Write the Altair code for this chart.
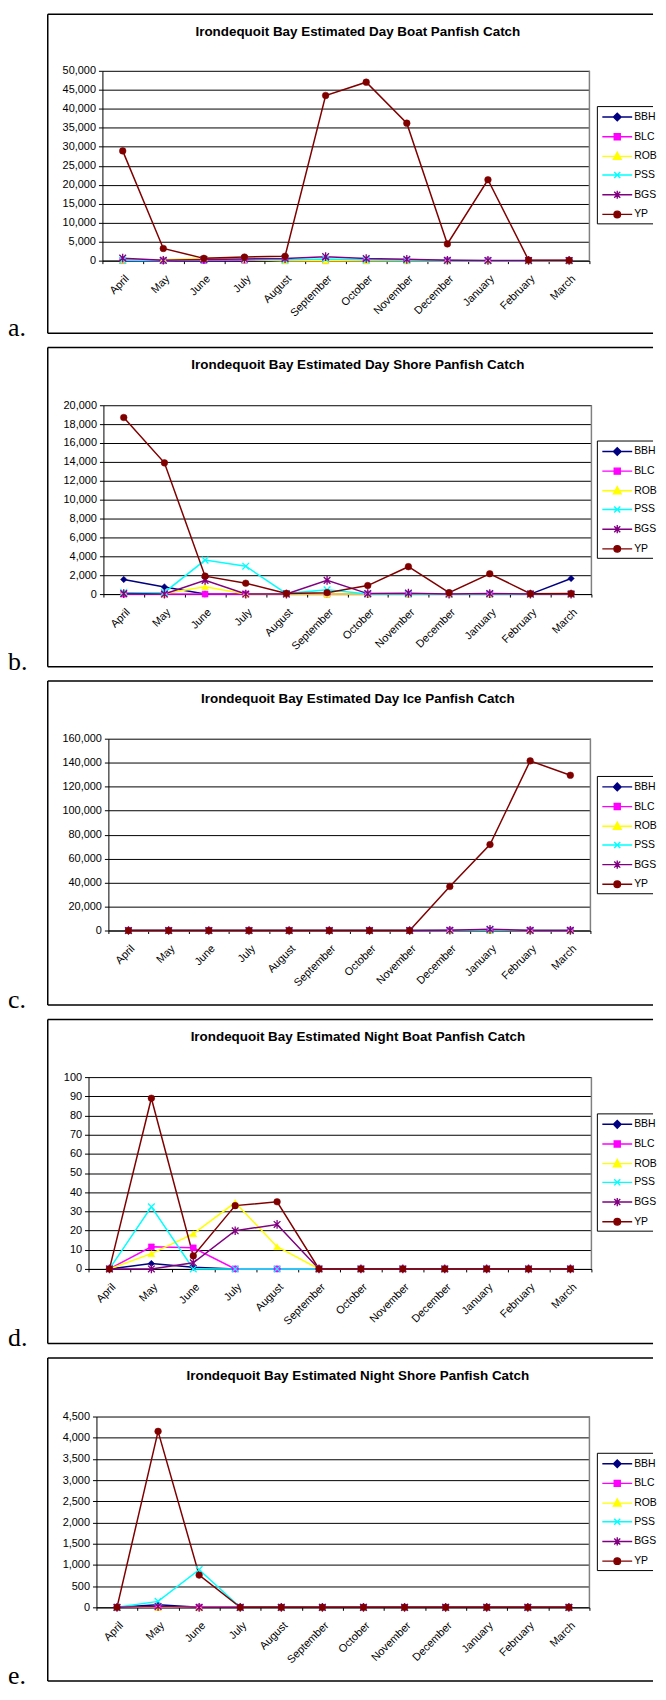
import altair as alt
import pandas as pd

MONTHS = ["April", "May", "June", "July", "August", "September", "October",
          "November", "December", "January", "February", "March"]
SERIES = ["BBH", "BLC", "ROB", "PSS", "BGS", "YP"]
COLORS = ["#000080", "#FF00FF", "#FFFF00", "#00FFFF", "#800080", "#800000"]

# a. Day boat
DAY_BOAT_BBH = [150, 50, 150, 300, 150, 200, 100, 100, 50, 0, 0, 0]
DAY_BOAT_BLC = [0, 0, 50, 100, 0, 0, 0, 0, 0, 0, 0, 0]
DAY_BOAT_ROB = [100, 300, 700, 300, 0, 0, 0, 0, 0, 0, 0, 0]
DAY_BOAT_PSS = [100, 50, 200, 300, 200, 450, 200, 100, 0, 0, 0, 0]
DAY_BOAT_BGS = [650, 100, 300, 450, 550, 1050, 550, 350, 100, 50, 50, 50]
DAY_BOAT_YP = [28900, 3200, 600, 950, 1150, 43500, 47000, 36200, 4400, 21300, 150, 100]

# b. Day shore
DAY_SHORE_BBH = [1550, 760, 0, 0, 0, 0, 0, 0, 0, 0, 0, 1650]
DAY_SHORE_BLC = [0, 0, 0, 0, 0, 0, 0, 0, 0, 0, 0, 0]
DAY_SHORE_ROB = [150, 50, 780, 0, 0, 0, 0, 0, 0, 0, 0, 0]
DAY_SHORE_PSS = [150, 180, 3600, 2950, 50, 450, 0, 0, 0, 0, 0, 0]
DAY_SHORE_BGS = [50, 0, 1450, 0, 0, 1450, 50, 100, 0, 50, 0, 0]
DAY_SHORE_YP = [18700, 13900, 1900, 1150, 70, 150, 900, 2900, 150, 2150, 40, 50]

# c. Day ice
DAY_ICE_BBH = [0, 0, 0, 0, 0, 0, 0, 0, 100, 200, 0, 0]
DAY_ICE_BLC = [0, 0, 0, 0, 0, 0, 0, 0, 0, 0, 0, 0]
DAY_ICE_ROB = [0, 0, 0, 0, 0, 0, 0, 0, 0, 0, 0, 0]
DAY_ICE_PSS = [0, 0, 0, 0, 0, 0, 0, 0, 0, 300, 0, 0]
DAY_ICE_BGS = [0, 0, 0, 0, 0, 0, 0, 0, 200, 1000, 100, 100]
DAY_ICE_YP = [0, 0, 0, 0, 0, 0, 0, 0, 36700, 71700, 141500, 129500]

# d. Night boat
NIGHT_BOAT_BBH = [0, 2.8, 0.9, 0, 0, 0, 0, 0, 0, 0, 0, 0]
NIGHT_BOAT_BLC = [0, 11.5, 11, 0, 0, 0, 0, 0, 0, 0, 0, 0]
NIGHT_BOAT_ROB = [0, 8, 18.3, 34.6, 11.6, 0, 0, 0, 0, 0, 0, 0]
NIGHT_BOAT_PSS = [0, 32.4, 0, 0, 0, 0, 0, 0, 0, 0, 0, 0]
NIGHT_BOAT_BGS = [0, 0, 3.2, 19.9, 23.2, 0, 0, 0, 0, 0, 0, 0]
NIGHT_BOAT_YP = [0, 89, 6.8, 33, 35, 0, 0, 0, 0, 0, 0, 0]

# e. Night shore
NIGHT_SHORE_BBH = [0, 60, 0, 0, 0, 0, 0, 0, 0, 0, 0, 0]
NIGHT_SHORE_BLC = [0, 0, 0, 0, 0, 0, 0, 0, 0, 0, 0, 0]
NIGHT_SHORE_ROB = [0, 0, 0, 0, 0, 0, 0, 0, 0, 0, 0, 0]
NIGHT_SHORE_PSS = [0, 140, 890, 0, 0, 0, 0, 0, 0, 0, 0, 0]
NIGHT_SHORE_BGS = [0, 20, 0, 0, 0, 0, 0, 0, 0, 0, 0, 0]
NIGHT_SHORE_YP = [0, 4150, 760, 0, 0, 0, 0, 0, 0, 0, 0, 0]

TITLES = [
    "Irondequoit Bay Estimated Day Boat Panfish Catch",
    "Irondequoit Bay Estimated Day Shore Panfish Catch",
    "Irondequoit Bay Estimated Day Ice Panfish Catch",
    "Irondequoit Bay Estimated Night Boat Panfish Catch",
    "Irondequoit Bay Estimated Night Shore Panfish Catch",
]
LETTERS = ["a.", "b.", "c.", "d.", "e."]
Y_MAX = [50000, 20000, 160000, 100, 4500]
Y_STEP = [5000, 2000, 20000, 10, 500]

PANEL_VALUES = [
    [DAY_BOAT_BBH, DAY_BOAT_BLC, DAY_BOAT_ROB, DAY_BOAT_PSS, DAY_BOAT_BGS, DAY_BOAT_YP],
    [DAY_SHORE_BBH, DAY_SHORE_BLC, DAY_SHORE_ROB, DAY_SHORE_PSS, DAY_SHORE_BGS, DAY_SHORE_YP],
    [DAY_ICE_BBH, DAY_ICE_BLC, DAY_ICE_ROB, DAY_ICE_PSS, DAY_ICE_BGS, DAY_ICE_YP],
    [NIGHT_BOAT_BBH, NIGHT_BOAT_BLC, NIGHT_BOAT_ROB, NIGHT_BOAT_PSS, NIGHT_BOAT_BGS, NIGHT_BOAT_YP],
    [NIGHT_SHORE_BBH, NIGHT_SHORE_BLC, NIGHT_SHORE_ROB, NIGHT_SHORE_PSS, NIGHT_SHORE_BGS, NIGHT_SHORE_YP],
]

# layout (page pixels): plot left/right edge, plot height,
# frame top/bottom and legend top relative to plot top
LAYOUT = [
    dict(left=103, right=593, height=191, box_top=-57, box_bottom=264, leg_top=36),
    dict(left=104, right=595, height=190, box_top=-58, box_bottom=263, leg_top=36),
    dict(left=109, right=594, height=193, box_top=-58, box_bottom=268, leg_top=38),
    dict(left=89, right=595, height=193, box_top=-58, box_bottom=268, leg_top=37),
    dict(left=97, right=593, height=192, box_top=-59, box_bottom=266, leg_top=37),
]
ORIGIN = 89          # common left edge of every panel's view (page px)
FRAME_LEFT = 48
FRAME_RIGHT = 657
LEGEND_LEFT = 601
LEGEND_HEIGHT = 118
LEGEND_SYMBOL_CENTER = 620

POINT_SHAPES = ["diamond", "square", "triangle-up",
                "M-1,-1L1,1M-1,1L1,-1",
                "M-1,-1L1,1M-1,1L1,-1M0,-1.3L0,1.3",
                "circle"]
POINT_FILLED = [True, True, True, False, False, True]
POINT_SIZES = [42, 36, 50, 45, 45, 45]

LEGEND_SHAPES = [
    "M-2.73,0H2.73M0,-0.7L0.7,0L0,0.7L-0.7,0Z",
    "M-2.73,0H2.73M-0.55,-0.55H0.55V0.55H-0.55Z",
    "M-2.73,0H2.73M0,-0.75L0.7,0.55H-0.7Z",
    "M-2.73,0H2.73M-0.55,-0.55L0.55,0.55M-0.55,0.55L0.55,-0.55",
    "M-2.73,0H2.73M-0.55,-0.55L0.55,0.55M-0.55,0.55L0.55,-0.55M0,-0.75V0.75",
    "M-2.73,0H2.73M-0.6,0A0.6,0.6 0 1,0 0.6,0A0.6,0.6 0 1,0 -0.6,0Z",
]

FONT = "Liberation Sans"
INDEP = dict(color="independent", stroke="independent", shape="independent")


def hrule(one, x1, x2, y, width=1.5, color="black"):
    return alt.Chart(one).mark_rule(color=color, strokeWidth=width).encode(
        x=alt.value(x1), x2=alt.value(x2), y=alt.value(y))


def vrule(one, x, y1, y2, width=1.5, color="black"):
    return alt.Chart(one).mark_rule(color=color, strokeWidth=width).encode(
        x=alt.value(x), y=alt.value(y1), y2=alt.value(y2))


def make_panel(i):
    lay = LAYOUT[i]
    x0 = lay["left"] - ORIGIN
    x1 = lay["right"] - ORIGIN
    rows = []
    for s, vals in zip(SERIES, PANEL_VALUES[i]):
        for k, (m, v) in enumerate(zip(MONTHS, vals)):
            rows.append({"month": m, "series": s, "value": v, "idx": k})
    df = pd.DataFrame(rows)
    one = pd.DataFrame({"k": [0]})

    x = alt.X("month:N",
              scale=alt.Scale(type="band", domain=MONTHS, paddingInner=0,
                              paddingOuter=0, range=[x0, x1]),
              bandPosition=0.5,
              axis=alt.Axis(title=None, labelAngle=-45, labelAlign="right",
                            labelBaseline="top", tickBand="extent", labelPadding=9,
                            tickSize=3, grid=False, labelFontSize=11))
    y = alt.Y("value:Q",
              scale=alt.Scale(domain=[0, Y_MAX[i]], nice=False, zero=True),
              axis=alt.Axis(title=None, values=list(range(0, Y_MAX[i] + 1, Y_STEP[i])),
                            format=",d", tickSize=4, labelPadding=3, grid=True,
                            offset=-x0))

    fl, fr = FRAME_LEFT - ORIGIN, FRAME_RIGHT - ORIGIN
    frame = [
        hrule(one, fl, fr, lay["box_top"]),
        hrule(one, fl, fr, lay["box_bottom"]),
        vrule(one, fl, lay["box_top"], lay["box_bottom"]),
        vrule(one, x1, 0, lay["height"], width=1.5, color="#808080"),
    ]
    ll = LEGEND_LEFT - ORIGIN
    lt, lb = lay["leg_top"], lay["leg_top"] + LEGEND_HEIGHT
    legend_frame = [
        hrule(one, ll, fr, lt, width=1),
        hrule(one, ll, fr, lb, width=1),
        vrule(one, ll, lt, lb, width=1),
    ]

    title = alt.Chart(one).mark_text(
        text=TITLES[i], font=FONT, fontSize=13.5, fontWeight="bold",
        align="center", baseline="middle", color="black").encode(
        x=alt.value(360 - ORIGIN), y=alt.value(lay["box_top"] + 18))

    letter = alt.Chart(one).mark_text(
        text=LETTERS[i], font="Liberation Serif", fontSize=26,
        align="left", baseline="alphabetic", color="black").encode(
        x=alt.value(8 - ORIGIN), y=alt.value(lay["box_bottom"] + 3))

    line_layers = []
    point_layers = []
    for s, c, shp, filled, sz in zip(SERIES, COLORS, POINT_SHAPES, POINT_FILLED, POINT_SIZES):
        sub = alt.Chart(df).transform_filter(alt.datum.series == s)
        line_layers.append(sub.mark_line(color=c, strokeWidth=1.5).encode(
            x=x, y=y, order=alt.Order("idx:Q")))
        if filled:
            pm = sub.mark_point(shape=shp, filled=True, fill=c, stroke=c,
                                strokeWidth=0.5, size=sz, opacity=1)
        else:
            pm = sub.mark_point(shape=shp, filled=False, stroke=c,
                                strokeWidth=1.3, size=sz, opacity=1)
        point_layers.append(pm.encode(x=x, y=y))

    legend_def = alt.Legend(
        title=None, orient="none", legendX=LEGEND_SYMBOL_CENTER - 5.5 - ORIGIN,
        legendY=lt + 4, padding=0, symbolSize=121, symbolStrokeWidth=1.4,
        labelOffset=10.5, rowPadding=5.8, labelFont=FONT, labelFontSize=10.5,
        labelColor="black", symbolOpacity=1)
    scale_color = alt.Scale(domain=SERIES, range=COLORS)
    legend_layer = alt.Chart(df).mark_point(filled=True, opacity=0, strokeWidth=1.3).encode(
        x=x, y=y,
        color=alt.Color("series:N", scale=scale_color, legend=legend_def),
        stroke=alt.Stroke("series:N", scale=scale_color, legend=legend_def),
        shape=alt.Shape("series:N", scale=alt.Scale(domain=SERIES, range=LEGEND_SHAPES),
                        legend=legend_def),
    )

    return alt.layer(*frame, *legend_frame, title, letter, *line_layers,
                     *point_layers, legend_layer).properties(
        width=x1, height=lay["height"])


panels = [make_panel(i) for i in range(5)]

chart = alt.vconcat(*panels, spacing=5.5).resolve_scale(**INDEP).properties(
    padding=0, background="white"
).configure_view(
    strokeOpacity=0
).configure_axis(
    labelFont=FONT, labelFontSize=11, labelColor="black",
    domainColor="black", tickColor="black", gridColor="black",
    gridOpacity=1, gridWidth=1, domainWidth=1
)

chart.save("out.html", embed_options={"renderer": "svg", "actions": False})
